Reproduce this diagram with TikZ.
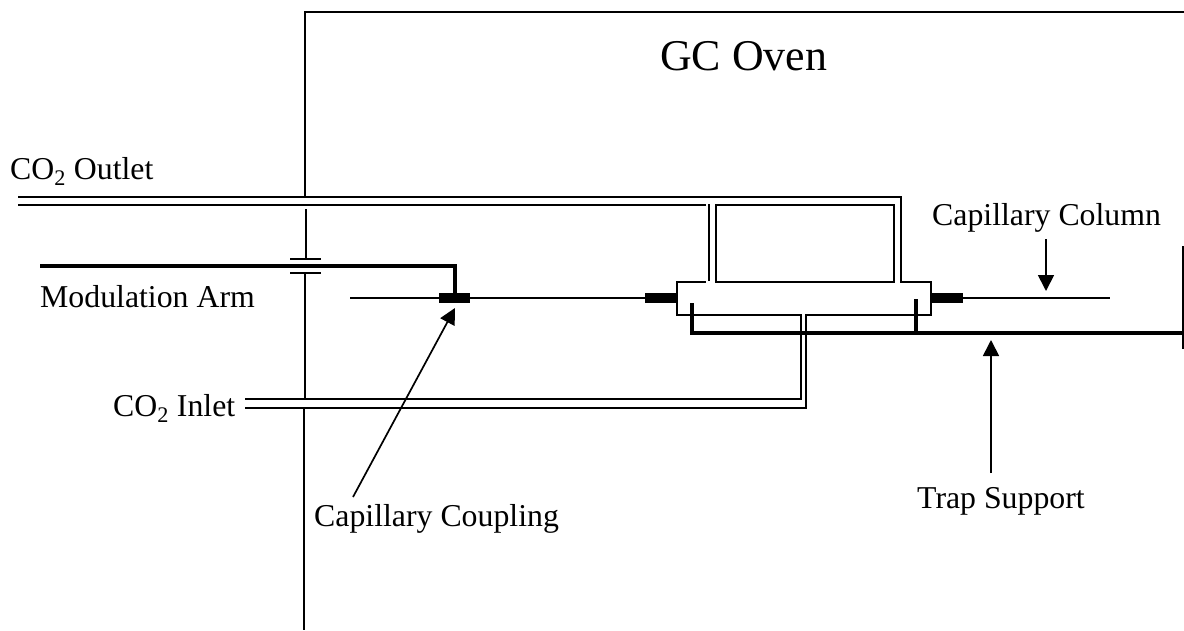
\documentclass[tikz,border=0pt]{standalone}
\usepackage{fontspec}
\setmainfont{Liberation Serif}
\usetikzlibrary{arrows.meta}
\tikzset{
  px/.style={x=1pt,y=-1pt},
  thinline/.style={line width=1.7pt,black},
  heavy/.style={line width=3.8pt,black},
  coupling/.style={fill=black,draw=none,inner sep=0pt,minimum width=#1,minimum height=10pt},
  label/.style={anchor=base west,inner sep=0pt,font=\fontsize{31.8}{36}\selectfont},
  title/.style={anchor=base west,inner sep=0pt,font=\fontsize{43.9}{48}\selectfont},
  pointer/.style={line width=1.7pt,-{Triangle[width=16pt,length=16pt]},shorten >=0pt}
}
\begin{document}
\begin{tikzpicture}[px]
\useasboundingbox (0,0) rectangle (1184,630);
% labels
\node[title] (oven) at (660,70) {GC Oven};
\node[label] (outlet) at (10,179) {CO\textsubscript{2} Outlet};
\node[label] (arm) at (40,307) {Modulation Arm};
\node[label] (inlet) at (113,416) {CO\textsubscript{2} Inlet};
\node[label] (capcoup) at (314,526) {Capillary Coupling};
\node[label] (trap) at (917,508) {Trap Support};
\node[label] (capcol) at (932,225) {Capillary Column};
% couplings
\node[coupling=31pt] (c1) at (454.5,298) {};
\node[coupling=32pt] (c2) at (661,298) {};
\node[coupling=32pt] (c3) at (947,298) {};
% oven wall
\coordinate (w1) at (1184,12);
\coordinate (w2) at (305,12);
\coordinate (w3) at (305,197);
\coordinate (w4) at (306,209);
\coordinate (w5) at (306,259);
\coordinate (w6) at (305,273);
\coordinate (w7) at (305,399);
\coordinate (w8) at (304,408);
\coordinate (w9) at (304,630);
\draw[thinline] (w1) -- (w2) -- (w3);
\draw[thinline] (w4) -- (w5);
\draw[thinline] (w6) -- (w7);
\draw[thinline] (w8) -- (w9);
\draw[thinline] (290,259) -- (321,259);
\draw[thinline] (290,273) -- (321,273);
% capillary column
\coordinate (cstart) at (350,298);
\coordinate (cend) at (1110,298);
\draw[thinline] (cstart) -- (c1) -- (c2);
\draw[thinline] (c3) -- (cend);
% trap body and CO2 lines
\draw[thinline] (18,197) -- (901,197) -- (901,282) -- (931,282) -- (931,315) -- (806,315) -- (806,408) -- (245,408);
\draw[thinline] (245,399) -- (801,399) -- (801,315) -- (677,315) -- (677,282) -- (706,282);
\draw[thinline] (18,205) -- (706,205);
\draw[thinline] (709,204) -- (709,281);
\draw[thinline] (716,205) rectangle (894,282);
% modulation arm
\draw[heavy] (40,266) -- (454.7,266) -- (c1.north -| 454.7,0);
% trap support
\draw[heavy] (692,303) -- (692,333) -- (1184,333);
\draw[heavy] (916,299) -- (916,333);
\draw[line width=2pt] (1183,246) -- (1183,349);
% pointers
\coordinate (p1s) at (353,497);
\coordinate (p1e) at (455,308);
\draw[pointer] (p1s) -- (p1e);
\coordinate (p2s) at (1046,239);
\coordinate (p2e) at (1046,291);
\draw[pointer] (p2s) -- (p2e);
\coordinate (p3s) at (991,473);
\coordinate (p3e) at (991,340);
\draw[pointer] (p3s) -- (p3e);
\end{tikzpicture}
\end{document}
